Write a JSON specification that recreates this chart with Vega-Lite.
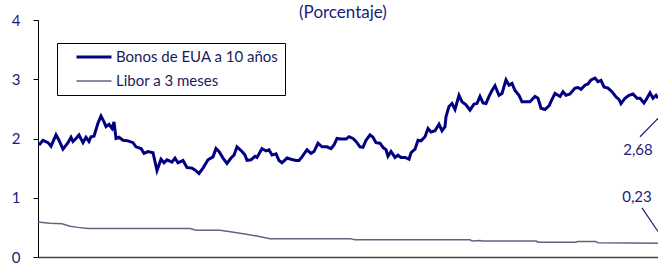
{
  "$schema": "https://vega.github.io/schema/vega-lite/v6.json",
  "width": 620,
  "height": 237,
  "autosize": {"type": "none"},
  "padding": {"left": 38, "top": 20, "right": 0, "bottom": 12},
  "background": "white",
  "config": {
    "view": {"stroke": null},
    "font": "Lato",
    "title": {"font": "Lato", "fontSize": 17, "fontWeight": "normal", "color": "#1c1c7c", "offset": 0, "anchor": "middle", "dx": -5, "dy": 26}
  },
  "title": {"text": "(Porcentaje)", "baseline": "bottom", "offset": 0},
  "datasets": {
    "series": [
      {"t": 1, "v": 1.89, "serie": "Bonos de EUA a 10 años"},
      {"t": 5, "v": 1.97, "serie": "Bonos de EUA a 10 años"},
      {"t": 10, "v": 1.93, "serie": "Bonos de EUA a 10 años"},
      {"t": 13, "v": 1.87, "serie": "Bonos de EUA a 10 años"},
      {"t": 18, "v": 2.06, "serie": "Bonos de EUA a 10 años"},
      {"t": 21, "v": 1.97, "serie": "Bonos de EUA a 10 años"},
      {"t": 25, "v": 1.82, "serie": "Bonos de EUA a 10 años"},
      {"t": 30, "v": 1.93, "serie": "Bonos de EUA a 10 años"},
      {"t": 33, "v": 2.02, "serie": "Bonos de EUA a 10 años"},
      {"t": 35, "v": 1.95, "serie": "Bonos de EUA a 10 años"},
      {"t": 38, "v": 2.0, "serie": "Bonos de EUA a 10 años"},
      {"t": 41, "v": 2.06, "serie": "Bonos de EUA a 10 años"},
      {"t": 45, "v": 1.93, "serie": "Bonos de EUA a 10 años"},
      {"t": 48, "v": 2.02, "serie": "Bonos de EUA a 10 años"},
      {"t": 51, "v": 1.95, "serie": "Bonos de EUA a 10 años"},
      {"t": 53, "v": 2.03, "serie": "Bonos de EUA a 10 años"},
      {"t": 56, "v": 2.04, "serie": "Bonos de EUA a 10 años"},
      {"t": 60, "v": 2.26, "serie": "Bonos de EUA a 10 años"},
      {"t": 63, "v": 2.38, "serie": "Bonos de EUA a 10 años"},
      {"t": 66, "v": 2.28, "serie": "Bonos de EUA a 10 años"},
      {"t": 68, "v": 2.2, "serie": "Bonos de EUA a 10 años"},
      {"t": 71, "v": 2.24, "serie": "Bonos de EUA a 10 años"},
      {"t": 74, "v": 2.17, "serie": "Bonos de EUA a 10 años"},
      {"t": 76, "v": 2.28, "serie": "Bonos de EUA a 10 años"},
      {"t": 78, "v": 2.0, "serie": "Bonos de EUA a 10 años"},
      {"t": 81, "v": 2.02, "serie": "Bonos de EUA a 10 años"},
      {"t": 85, "v": 1.97, "serie": "Bonos de EUA a 10 años"},
      {"t": 90, "v": 1.96, "serie": "Bonos de EUA a 10 años"},
      {"t": 95, "v": 1.93, "serie": "Bonos de EUA a 10 años"},
      {"t": 98, "v": 1.86, "serie": "Bonos de EUA a 10 años"},
      {"t": 103, "v": 1.83, "serie": "Bonos de EUA a 10 años"},
      {"t": 106, "v": 1.75, "serie": "Bonos de EUA a 10 años"},
      {"t": 110, "v": 1.78, "serie": "Bonos de EUA a 10 años"},
      {"t": 115, "v": 1.76, "serie": "Bonos de EUA a 10 años"},
      {"t": 119, "v": 1.46, "serie": "Bonos de EUA a 10 años"},
      {"t": 123, "v": 1.65, "serie": "Bonos de EUA a 10 años"},
      {"t": 126, "v": 1.59, "serie": "Bonos de EUA a 10 años"},
      {"t": 129, "v": 1.64, "serie": "Bonos de EUA a 10 años"},
      {"t": 134, "v": 1.6, "serie": "Bonos de EUA a 10 años"},
      {"t": 137, "v": 1.67, "serie": "Bonos de EUA a 10 años"},
      {"t": 140, "v": 1.59, "serie": "Bonos de EUA a 10 años"},
      {"t": 145, "v": 1.63, "serie": "Bonos de EUA a 10 años"},
      {"t": 149, "v": 1.51, "serie": "Bonos de EUA a 10 años"},
      {"t": 154, "v": 1.5, "serie": "Bonos de EUA a 10 años"},
      {"t": 157, "v": 1.47, "serie": "Bonos de EUA a 10 años"},
      {"t": 161, "v": 1.41, "serie": "Bonos de EUA a 10 años"},
      {"t": 165, "v": 1.5, "serie": "Bonos de EUA a 10 años"},
      {"t": 170, "v": 1.64, "serie": "Bonos de EUA a 10 años"},
      {"t": 175, "v": 1.69, "serie": "Bonos de EUA a 10 años"},
      {"t": 178, "v": 1.83, "serie": "Bonos de EUA a 10 años"},
      {"t": 181, "v": 1.78, "serie": "Bonos de EUA a 10 años"},
      {"t": 185, "v": 1.67, "serie": "Bonos de EUA a 10 años"},
      {"t": 189, "v": 1.58, "serie": "Bonos de EUA a 10 años"},
      {"t": 193, "v": 1.67, "serie": "Bonos de EUA a 10 años"},
      {"t": 196, "v": 1.72, "serie": "Bonos de EUA a 10 años"},
      {"t": 199, "v": 1.86, "serie": "Bonos de EUA a 10 años"},
      {"t": 204, "v": 1.78, "serie": "Bonos de EUA a 10 años"},
      {"t": 207, "v": 1.72, "serie": "Bonos de EUA a 10 años"},
      {"t": 209, "v": 1.63, "serie": "Bonos de EUA a 10 años"},
      {"t": 213, "v": 1.64, "serie": "Bonos de EUA a 10 años"},
      {"t": 217, "v": 1.7, "serie": "Bonos de EUA a 10 años"},
      {"t": 219, "v": 1.68, "serie": "Bonos de EUA a 10 años"},
      {"t": 224, "v": 1.83, "serie": "Bonos de EUA a 10 años"},
      {"t": 228, "v": 1.79, "serie": "Bonos de EUA a 10 años"},
      {"t": 231, "v": 1.81, "serie": "Bonos de EUA a 10 años"},
      {"t": 234, "v": 1.72, "serie": "Bonos de EUA a 10 años"},
      {"t": 238, "v": 1.74, "serie": "Bonos de EUA a 10 años"},
      {"t": 241, "v": 1.63, "serie": "Bonos de EUA a 10 años"},
      {"t": 244, "v": 1.59, "serie": "Bonos de EUA a 10 años"},
      {"t": 249, "v": 1.67, "serie": "Bonos de EUA a 10 años"},
      {"t": 253, "v": 1.65, "serie": "Bonos de EUA a 10 años"},
      {"t": 258, "v": 1.63, "serie": "Bonos de EUA a 10 años"},
      {"t": 261, "v": 1.63, "serie": "Bonos de EUA a 10 años"},
      {"t": 264, "v": 1.69, "serie": "Bonos de EUA a 10 años"},
      {"t": 269, "v": 1.81, "serie": "Bonos de EUA a 10 años"},
      {"t": 273, "v": 1.75, "serie": "Bonos de EUA a 10 años"},
      {"t": 276, "v": 1.78, "serie": "Bonos de EUA a 10 años"},
      {"t": 280, "v": 1.92, "serie": "Bonos de EUA a 10 años"},
      {"t": 284, "v": 1.86, "serie": "Bonos de EUA a 10 años"},
      {"t": 289, "v": 1.86, "serie": "Bonos de EUA a 10 años"},
      {"t": 293, "v": 1.83, "serie": "Bonos de EUA a 10 años"},
      {"t": 296, "v": 1.89, "serie": "Bonos de EUA a 10 años"},
      {"t": 299, "v": 2.0, "serie": "Bonos de EUA a 10 años"},
      {"t": 303, "v": 1.99, "serie": "Bonos de EUA a 10 años"},
      {"t": 308, "v": 1.99, "serie": "Bonos de EUA a 10 años"},
      {"t": 311, "v": 2.03, "serie": "Bonos de EUA a 10 años"},
      {"t": 315, "v": 2.0, "serie": "Bonos de EUA a 10 años"},
      {"t": 318, "v": 1.95, "serie": "Bonos de EUA a 10 años"},
      {"t": 322, "v": 1.86, "serie": "Bonos de EUA a 10 años"},
      {"t": 325, "v": 1.85, "serie": "Bonos de EUA a 10 años"},
      {"t": 328, "v": 1.97, "serie": "Bonos de EUA a 10 años"},
      {"t": 332, "v": 2.06, "serie": "Bonos de EUA a 10 años"},
      {"t": 335, "v": 2.02, "serie": "Bonos de EUA a 10 años"},
      {"t": 338, "v": 1.93, "serie": "Bonos de EUA a 10 años"},
      {"t": 342, "v": 1.92, "serie": "Bonos de EUA a 10 años"},
      {"t": 345, "v": 1.85, "serie": "Bonos de EUA a 10 años"},
      {"t": 348, "v": 1.81, "serie": "Bonos de EUA a 10 años"},
      {"t": 350, "v": 1.7, "serie": "Bonos de EUA a 10 años"},
      {"t": 353, "v": 1.78, "serie": "Bonos de EUA a 10 años"},
      {"t": 357, "v": 1.68, "serie": "Bonos de EUA a 10 años"},
      {"t": 360, "v": 1.72, "serie": "Bonos de EUA a 10 años"},
      {"t": 363, "v": 1.68, "serie": "Bonos de EUA a 10 años"},
      {"t": 367, "v": 1.68, "serie": "Bonos de EUA a 10 años"},
      {"t": 371, "v": 1.65, "serie": "Bonos de EUA a 10 años"},
      {"t": 373, "v": 1.76, "serie": "Bonos de EUA a 10 años"},
      {"t": 377, "v": 1.82, "serie": "Bonos de EUA a 10 años"},
      {"t": 380, "v": 1.97, "serie": "Bonos de EUA a 10 años"},
      {"t": 383, "v": 1.96, "serie": "Bonos de EUA a 10 años"},
      {"t": 387, "v": 2.03, "serie": "Bonos de EUA a 10 años"},
      {"t": 390, "v": 2.17, "serie": "Bonos de EUA a 10 años"},
      {"t": 393, "v": 2.11, "serie": "Bonos de EUA a 10 años"},
      {"t": 397, "v": 2.13, "serie": "Bonos de EUA a 10 años"},
      {"t": 401, "v": 2.24, "serie": "Bonos de EUA a 10 años"},
      {"t": 404, "v": 2.13, "serie": "Bonos de EUA a 10 años"},
      {"t": 407, "v": 2.2, "serie": "Bonos de EUA a 10 años"},
      {"t": 408, "v": 2.37, "serie": "Bonos de EUA a 10 años"},
      {"t": 411, "v": 2.54, "serie": "Bonos de EUA a 10 años"},
      {"t": 414, "v": 2.59, "serie": "Bonos de EUA a 10 años"},
      {"t": 417, "v": 2.49, "serie": "Bonos de EUA a 10 años"},
      {"t": 421, "v": 2.73, "serie": "Bonos de EUA a 10 años"},
      {"t": 424, "v": 2.62, "serie": "Bonos de EUA a 10 años"},
      {"t": 428, "v": 2.57, "serie": "Bonos de EUA a 10 años"},
      {"t": 432, "v": 2.48, "serie": "Bonos de EUA a 10 años"},
      {"t": 436, "v": 2.58, "serie": "Bonos de EUA a 10 años"},
      {"t": 439, "v": 2.59, "serie": "Bonos de EUA a 10 años"},
      {"t": 442, "v": 2.71, "serie": "Bonos de EUA a 10 años"},
      {"t": 445, "v": 2.6, "serie": "Bonos de EUA a 10 años"},
      {"t": 448, "v": 2.59, "serie": "Bonos de EUA a 10 años"},
      {"t": 451, "v": 2.71, "serie": "Bonos de EUA a 10 años"},
      {"t": 454, "v": 2.81, "serie": "Bonos de EUA a 10 años"},
      {"t": 457, "v": 2.89, "serie": "Bonos de EUA a 10 años"},
      {"t": 461, "v": 2.73, "serie": "Bonos de EUA a 10 años"},
      {"t": 464, "v": 2.76, "serie": "Bonos de EUA a 10 años"},
      {"t": 468, "v": 2.99, "serie": "Bonos de EUA a 10 años"},
      {"t": 471, "v": 2.9, "serie": "Bonos de EUA a 10 años"},
      {"t": 474, "v": 2.93, "serie": "Bonos de EUA a 10 años"},
      {"t": 477, "v": 2.81, "serie": "Bonos de EUA a 10 años"},
      {"t": 481, "v": 2.73, "serie": "Bonos de EUA a 10 años"},
      {"t": 484, "v": 2.62, "serie": "Bonos de EUA a 10 años"},
      {"t": 488, "v": 2.62, "serie": "Bonos de EUA a 10 años"},
      {"t": 492, "v": 2.62, "serie": "Bonos de EUA a 10 años"},
      {"t": 497, "v": 2.71, "serie": "Bonos de EUA a 10 años"},
      {"t": 500, "v": 2.68, "serie": "Bonos de EUA a 10 años"},
      {"t": 503, "v": 2.51, "serie": "Bonos de EUA a 10 años"},
      {"t": 507, "v": 2.49, "serie": "Bonos de EUA a 10 años"},
      {"t": 511, "v": 2.55, "serie": "Bonos de EUA a 10 años"},
      {"t": 514, "v": 2.66, "serie": "Bonos de EUA a 10 años"},
      {"t": 517, "v": 2.76, "serie": "Bonos de EUA a 10 años"},
      {"t": 518, "v": 2.75, "serie": "Bonos de EUA a 10 años"},
      {"t": 522, "v": 2.71, "serie": "Bonos de EUA a 10 años"},
      {"t": 525, "v": 2.79, "serie": "Bonos de EUA a 10 años"},
      {"t": 528, "v": 2.73, "serie": "Bonos de EUA a 10 años"},
      {"t": 532, "v": 2.75, "serie": "Bonos de EUA a 10 años"},
      {"t": 537, "v": 2.85, "serie": "Bonos de EUA a 10 años"},
      {"t": 540, "v": 2.86, "serie": "Bonos de EUA a 10 años"},
      {"t": 543, "v": 2.83, "serie": "Bonos de EUA a 10 años"},
      {"t": 547, "v": 2.9, "serie": "Bonos de EUA a 10 años"},
      {"t": 550, "v": 2.92, "serie": "Bonos de EUA a 10 años"},
      {"t": 553, "v": 2.99, "serie": "Bonos de EUA a 10 años"},
      {"t": 557, "v": 3.02, "serie": "Bonos de EUA a 10 años"},
      {"t": 560, "v": 2.96, "serie": "Bonos de EUA a 10 años"},
      {"t": 563, "v": 2.98, "serie": "Bonos de EUA a 10 años"},
      {"t": 566, "v": 2.87, "serie": "Bonos de EUA a 10 años"},
      {"t": 570, "v": 2.85, "serie": "Bonos de EUA a 10 años"},
      {"t": 574, "v": 2.79, "serie": "Bonos de EUA a 10 años"},
      {"t": 578, "v": 2.7, "serie": "Bonos de EUA a 10 años"},
      {"t": 581, "v": 2.66, "serie": "Bonos de EUA a 10 años"},
      {"t": 583, "v": 2.59, "serie": "Bonos de EUA a 10 años"},
      {"t": 587, "v": 2.68, "serie": "Bonos de EUA a 10 años"},
      {"t": 591, "v": 2.73, "serie": "Bonos de EUA a 10 años"},
      {"t": 595, "v": 2.75, "serie": "Bonos de EUA a 10 años"},
      {"t": 599, "v": 2.68, "serie": "Bonos de EUA a 10 años"},
      {"t": 602, "v": 2.68, "serie": "Bonos de EUA a 10 años"},
      {"t": 606, "v": 2.6, "serie": "Bonos de EUA a 10 años"},
      {"t": 609, "v": 2.68, "serie": "Bonos de EUA a 10 años"},
      {"t": 612, "v": 2.77, "serie": "Bonos de EUA a 10 años"},
      {"t": 615, "v": 2.68, "serie": "Bonos de EUA a 10 años"},
      {"t": 618, "v": 2.73, "serie": "Bonos de EUA a 10 años"},
      {"t": 620, "v": 2.68, "serie": "Bonos de EUA a 10 años"},
      {"t": 0, "v": 0.59, "serie": "Libor a 3 meses"},
      {"t": 7, "v": 0.58, "serie": "Libor a 3 meses"},
      {"t": 12, "v": 0.57, "serie": "Libor a 3 meses"},
      {"t": 24, "v": 0.56, "serie": "Libor a 3 meses"},
      {"t": 32, "v": 0.52, "serie": "Libor a 3 meses"},
      {"t": 40, "v": 0.5, "serie": "Libor a 3 meses"},
      {"t": 50, "v": 0.48, "serie": "Libor a 3 meses"},
      {"t": 152, "v": 0.48, "serie": "Libor a 3 meses"},
      {"t": 158, "v": 0.45, "serie": "Libor a 3 meses"},
      {"t": 182, "v": 0.45, "serie": "Libor a 3 meses"},
      {"t": 194, "v": 0.42, "serie": "Libor a 3 meses"},
      {"t": 207, "v": 0.39, "serie": "Libor a 3 meses"},
      {"t": 220, "v": 0.35, "serie": "Libor a 3 meses"},
      {"t": 232, "v": 0.31, "serie": "Libor a 3 meses"},
      {"t": 312, "v": 0.31, "serie": "Libor a 3 meses"},
      {"t": 317, "v": 0.29, "serie": "Libor a 3 meses"},
      {"t": 432, "v": 0.29, "serie": "Libor a 3 meses"},
      {"t": 434, "v": 0.27, "serie": "Libor a 3 meses"},
      {"t": 442, "v": 0.28, "serie": "Libor a 3 meses"},
      {"t": 444, "v": 0.27, "serie": "Libor a 3 meses"},
      {"t": 498, "v": 0.27, "serie": "Libor a 3 meses"},
      {"t": 500, "v": 0.25, "serie": "Libor a 3 meses"},
      {"t": 538, "v": 0.25, "serie": "Libor a 3 meses"},
      {"t": 540, "v": 0.26, "serie": "Libor a 3 meses"},
      {"t": 558, "v": 0.26, "serie": "Libor a 3 meses"},
      {"t": 560, "v": 0.24, "serie": "Libor a 3 meses"},
      {"t": 620, "v": 0.23, "serie": "Libor a 3 meses"}
    ],
    "labels": [
      {"t": 600, "v": 1.81, "label": "2,68"},
      {"t": 599, "v": 1.01, "label": "0,23"}
    ],
    "leaders": [
      {"t": 602, "v": 2.03, "t2": 620, "v2": 2.34},
      {"t": 604, "v": 0.83, "t2": 620, "v2": 0.43}
    ]
  },
  "layer": [
    {
      "data": {"name": "series"},
      "mark": {"type": "line", "interpolate": "linear", "clip": true},
      "encoding": {
        "x": {
          "field": "t", "type": "quantitative",
          "scale": {"domain": [0, 620], "nice": false, "zero": false},
          "axis": {"title": null, "labels": false, "ticks": false, "grid": false, "domainColor": "#444444", "domainWidth": 1.5}
        },
        "y": {
          "field": "v", "type": "quantitative",
          "scale": {"domain": [0, 4], "nice": false},
          "axis": {"title": null, "values": [0, 1, 2, 3, 4], "format": "d", "grid": false, "domainColor": "#000000", "domainWidth": 1, "tickColor": "#000000", "tickSize": 5, "labelPadding": 13, "labelFont": "Lato", "labelFontSize": 15, "labelColor": "#1c1c7c"}
        },
        "color": {
          "field": "serie", "type": "nominal",
          "scale": {"domain": ["Bonos de EUA a 10 años", "Libor a 3 meses"], "range": ["#000080", "#6a607e"]},
          "legend": {
            "title": null, "orient": "none", "legendX": 19, "legendY": 23,
            "strokeColor": "#000000", "padding": 6,
            "symbolType": "stroke", "symbolSize": 1225, "symbolOffset": 12, "clipHeight": 16,
            "labelFont": "Lato", "labelFontSize": 15, "labelColor": "#1b1b5e", "labelOffset": 3,
            "rowPadding": 8, "fillColor": "white", "labelLimit": 300
          }
        },
        "strokeWidth": {
          "field": "serie", "type": "nominal",
          "scale": {"domain": ["Bonos de EUA a 10 años", "Libor a 3 meses"], "range": [3, 1.5]}
        }
      }
    },
    {
      "data": {"name": "leaders"},
      "mark": {"type": "rule", "color": "#1c1c7c", "strokeWidth": 1.2},
      "encoding": {
        "x": {"field": "t", "type": "quantitative"},
        "y": {"field": "v", "type": "quantitative"},
        "x2": {"field": "t2"},
        "y2": {"field": "v2"}
      }
    },
    {
      "data": {"name": "labels"},
      "mark": {"type": "text", "font": "Lato", "fontSize": 15, "color": "#1c1c7c", "align": "center", "baseline": "middle"},
      "encoding": {
        "x": {"field": "t", "type": "quantitative"},
        "y": {"field": "v", "type": "quantitative"},
        "text": {"field": "label"}
      }
    }
  ]
}
